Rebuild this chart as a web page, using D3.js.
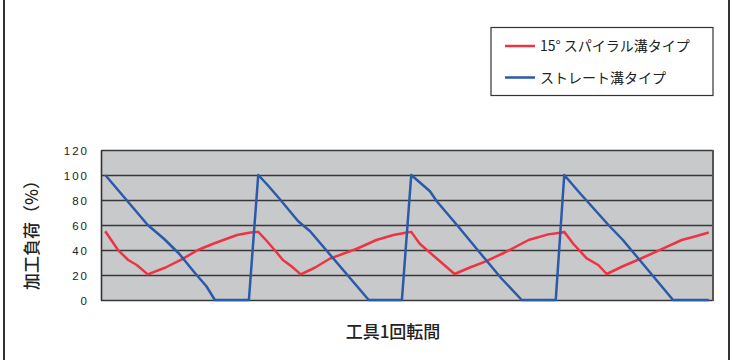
<!DOCTYPE html>
<html><head><meta charset="utf-8">
<script src="https://cdn.jsdelivr.net/npm/d3@7"></script>
<style>
html,body{margin:0;padding:0;background:#fff;}
svg{display:block;}
</style></head>
<body>
<svg id="chart" width="731" height="360"></svg>
<script>
// x: rotation angle (deg) within one tool revolution, y: load (%)
const spiralX = [2.5,10,16,21,27.5,38,47.5,57,66,74,80,88,92.5,
  97,101.5,107,112,117.5,126,134.5,150.5,162,172,180,182.5,
  187.5,198.5,208,217,226,237.5,251.5,263,271,272.5,
  277.8,285.7,292.5,297.5,307,317,330.8,341.6,350.4,357.5];
const spiralY = [55,40,32,28,20.5,26,32.5,40,45,49,52,54,54.5,
  48,41,32,27,20.5,26,33,41,48,52,54,54.5,
  45,32,20.8,26,30.7,38,48,52.5,54,54.5,
  45,33.3,28,20.8,27,32.8,41.3,48,51.2,54];
const straightX = [2.5,27.5,37,46,55,62,67,87,
  92.5,98,105,116,123,157.5,177,
  182.5,193.5,197.5,210,224,235.7,247.5,267.5,
  272.5,282,286,298.5,307,315,331,336.5,357.5];
const straightY = [100,60,49,37,22,11,0,0,
  100,92,81,63,55,0,0,
  100,87,79,59,36,17,0,0,
  100,85,79,60,48,35,9,0,0];
const yTicks = [0,20,40,60,80,100,120];
const seriesNames = ["15° スパイラル溝タイプ","ストレート溝タイプ"];
const seriesColors = ["#ee3344","#2a5aa8"];
const yTitle = "加工負荷（%）";
const xTitle = "工具1回転間";

const svg = d3.select("#chart");
const pL = 101, pR = 713, pT = 150, pB = 300;
const x = d3.scaleLinear().domain([0,360]).range([pL,pR]);
const y = d3.scaleLinear().domain([0,120]).range([pB,pT]);

// outer side borders
svg.append("line").attr("x1",4).attr("x2",4).attr("y1",0).attr("y2",360)
  .attr("stroke","#333").attr("stroke-width",2);
svg.append("line").attr("x1",729).attr("x2",729).attr("y1",0).attr("y2",360)
  .attr("stroke","#333").attr("stroke-width",2);

// plot background
svg.append("rect").attr("x",pL).attr("y",pT).attr("width",pR-pL).attr("height",pB-pT)
  .attr("fill","#c8c9cb");

// gridlines via axis
const grid = svg.append("g").attr("transform",`translate(${pL},0)`)
  .call(d3.axisRight(y).tickValues(yTicks).tickSize(pR-pL).tickFormat(""));
grid.select(".domain").remove();
grid.selectAll(".tick line").attr("stroke","#383838").attr("stroke-width",1.6);

// left axis labels
const yAxis = svg.append("g").attr("transform",`translate(${pL},0)`)
  .call(d3.axisLeft(y).tickValues(yTicks).tickSize(0).tickPadding(0));
yAxis.select(".domain").attr("stroke","#333").attr("stroke-width",1.6);
yAxis.selectAll(".tick text")
  .attr("x",-12).attr("dy","0.42em")
  .attr("font-family","Liberation Sans, Arial, sans-serif")
  .attr("font-size",11.5).attr("letter-spacing","2px").attr("fill","#222");

// right frame edge
svg.append("line").attr("x1",pR).attr("x2",pR).attr("y1",pT).attr("y2",pB+1)
  .attr("stroke","#555").attr("stroke-width",2);

const line = d3.line().x(d=>x(d[0])).y(d=>y(d[1]));
const spiral = spiralX.map((v,i)=>[v,spiralY[i]]);
const straight = straightX.map((v,i)=>[v,straightY[i]]);

svg.append("path").datum(spiral).attr("d",line).attr("fill","none")
  .attr("stroke",seriesColors[0]).attr("stroke-width",2.5).attr("stroke-linejoin","round");
svg.append("path").datum(straight).attr("d",line).attr("fill","none")
  .attr("stroke",seriesColors[1]).attr("stroke-width",2.5).attr("stroke-linejoin","round");

// axis titles
svg.append("text").attr("transform",`translate(38,231) rotate(-90)`)
  .attr("text-anchor","middle").attr("font-family","Noto Sans CJK JP")
  .attr("font-size",17).attr("font-weight",500).attr("fill","#222").text(yTitle);
svg.append("text").attr("x",393).attr("y",338)
  .attr("text-anchor","middle").attr("font-family","Noto Sans CJK JP")
  .attr("font-size",17).attr("font-weight",500).attr("fill","#222").text(xTitle);

// legend
const lg = svg.append("g");
lg.append("rect").attr("x",491).attr("y",27.5).attr("width",222).attr("height",68)
  .attr("fill","#fff").attr("stroke","#333").attr("stroke-width",1.2);
seriesNames.forEach((n,i)=>{
  const yy = 46 + i*31.5;
  lg.append("line").attr("x1",505).attr("x2",535).attr("y1",yy).attr("y2",yy)
    .attr("stroke",seriesColors[i]).attr("stroke-width",2.5);
  lg.append("text").attr("x",540).attr("y",yy).attr("dy","0.36em")
    .attr("font-family","Noto Sans CJK JP").attr("font-size",14).attr("fill","#222").text(n);
});
</script>
</body></html>
